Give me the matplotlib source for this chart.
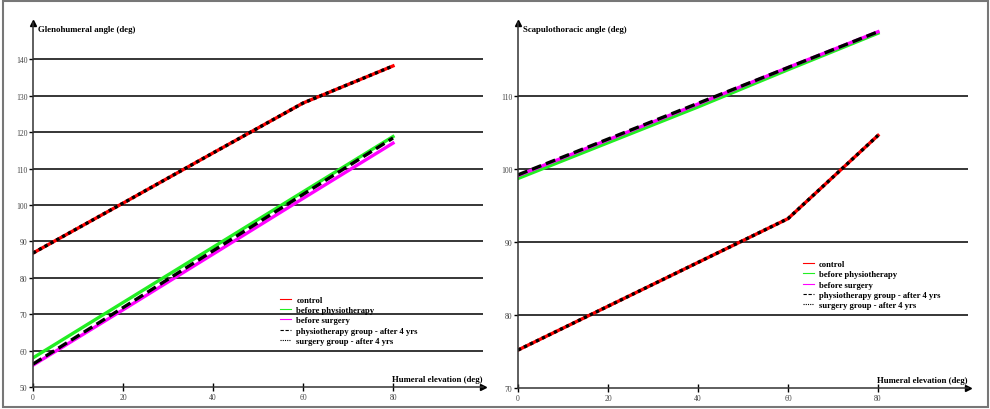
import matplotlib
matplotlib.use("Agg")
import matplotlib.pyplot as plt
from matplotlib.patches import Rectangle

# humeral elevation (deg)
elev = [0, 20, 40, 60, 80]

# glenohumeral angle (deg)
gh_control = [86.8, 100.5, 114.3, 128.0, 138.2]
gh_before_physio = [58.0, 73.2, 88.4, 103.6, 118.8]
gh_before_surgery = [56.0, 71.2, 86.5, 101.8, 117.0]
gh_physio_after = [56.3, 71.8, 87.4, 102.9, 118.4]
gh_surgery_after = [86.8, 100.5, 114.3, 128.0, 138.2]

# scapulothoracic angle (deg)
st_control = [75.2, 81.2, 87.2, 93.2, 104.6]
st_before_physio = [98.7, 103.6, 108.5, 113.6, 118.6]
st_before_surgery = [99.1, 104.0, 108.9, 113.9, 118.8]
st_physio_after = [99.2, 104.1, 109.0, 113.9, 118.8]
st_surgery_after = [75.2, 81.2, 87.2, 93.2, 104.6]

labels = ["control", "before physiotherapy", "before surgery",
          "physiotherapy group - after 4 yrs", "surgery group - after 4 yrs"]

serif = "Liberation Serif"

fig = plt.figure(figsize=(9.9, 4.1), dpi=100)
fig.patches.append(Rectangle((0.003, 0.005), 0.995, 0.99, transform=fig.transFigure,
                             fill=False, edgecolor="#777777", lw=1.5))


def draw(ax, ys, ylim, yticks, ylabel, leg_pos):
    ax.plot(elev, ys[0], color="red", lw=2.4, label=labels[0])
    ax.plot(elev, ys[1], color="#22ee22", lw=2.4, label=labels[1])
    ax.plot(elev, ys[2], color="magenta", lw=2.4, label=labels[2])
    ax.plot(elev, ys[3], color="black", lw=2.4, ls=(0, (3, 1.5)), label=labels[3])
    ax.plot(elev, ys[4], color="black", lw=2.4, ls=(0, (1, 1)), label=labels[4])
    ax.set_xlim(0, 100)
    ax.set_ylim(*ylim)
    ax.set_xticks([0, 20, 40, 60, 80])
    ax.set_yticks(yticks)
    for t in yticks[1:]:
        ax.axhline(t, color="black", lw=1.1, zorder=0)
    ax.spines["top"].set_visible(False)
    ax.spines["right"].set_visible(False)
    ax.spines["left"].set_color("#333333")
    ax.spines["bottom"].set_color("#333333")
    ax.spines["left"].set_linewidth(1.1)
    ax.spines["bottom"].set_linewidth(1.1)
    ax.tick_params(axis="x", direction="inout", length=6, width=1, labelsize=5.5,
                   labelcolor="#444444", pad=1)
    ax.tick_params(axis="y", direction="out", length=3, width=1, labelsize=5.5,
                   labelcolor="#444444", pad=1)
    for lab in ax.get_xticklabels() + ax.get_yticklabels():
        lab.set_fontfamily(serif)
    ax.plot(1, 0, ">", color="black", ms=4, transform=ax.transAxes, clip_on=False)
    ax.plot(0, 1, "^", color="black", ms=4, transform=ax.transAxes, clip_on=False)
    ax.text(0.011, 0.983, ylabel, transform=ax.transAxes, ha="left", va="center",
            fontsize=6.3, fontweight="bold", family=serif)
    ax.text(0.998, 0.012, "Humeral elevation (deg)", transform=ax.transAxes,
            ha="right", va="bottom", fontsize=6.3, fontweight="bold", family=serif)
    ax.patch.set_visible(False)
    leg = ax.legend(loc="upper left", bbox_to_anchor=leg_pos, frameon=False,
                    prop={"family": serif, "weight": "bold", "size": 6.2},
                    handlelength=1.3, handletextpad=0.6, labelspacing=0.25,
                    borderpad=0, borderaxespad=0)
    for h in leg.get_lines():
        h.set_linewidth(0.8)


ax1 = fig.add_axes([33 / 990, 22 / 410, 450 / 990, 364 / 410])
draw(ax1, [gh_control, gh_before_physio, gh_before_surgery, gh_physio_after, gh_surgery_after],
     (50, 150), [50, 60, 70, 80, 90, 100, 110, 120, 130, 140],
     "Glenohumeral angle (deg)", (0.549, 0.25))

ax2 = fig.add_axes([518 / 990, 21 / 410, 450 / 990, 365 / 410])
draw(ax2, [st_control, st_before_physio, st_before_surgery, st_physio_after, st_surgery_after],
     (70, 120), [70, 80, 90, 100, 110],
     "Scapulothoracic angle (deg)", (0.633, 0.35))

fig.savefig("out.png", dpi=100)
